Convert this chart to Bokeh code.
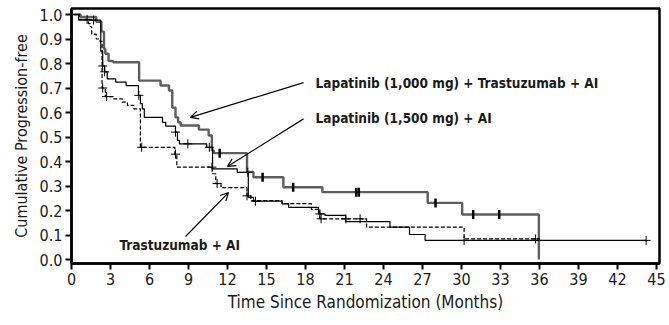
import numpy as np
from bokeh.plotting import figure
from bokeh.models import Range1d, FixedTicker, Arrow, OpenHead, Label
from bokeh.embed import file_html
from bokeh.resources import INLINE

# ---------------- data ----------------
# Lapatinib (1,000 mg) + Trastuzumab + AI
combo_t = [0, 0.7, 1.9, 2.3, 2.5, 2.6, 2.85, 3.2, 5.2, 6.85, 7.5, 7.75, 8.0, 8.2, 8.4,
           9.8, 10.55, 10.8, 10.95, 13.5, 14.0, 16.3, 19.3, 27.4, 30.05, 35.95]
combo_s = [1.0, 0.99, 0.97, 0.93, 0.86, 0.84, 0.81, 0.805, 0.73, 0.71, 0.69, 0.62, 0.58, 0.56, 0.547,
           0.53, 0.506, 0.445, 0.434, 0.357, 0.336, 0.295, 0.275, 0.231, 0.184, 0.0]
combo_censor = [11.4, 14.7, 17.05, 21.9, 22.1, 28.0, 30.9, 32.9]

# Lapatinib (1,500 mg) + AI
lap_t = [0, 0.55, 2.25, 2.4, 2.55, 2.75, 3.4, 4.2, 5.15, 5.3, 5.45, 5.6, 7.0, 7.25, 8.0, 8.15, 8.3,
         10.4, 10.85, 12.75, 13.6, 14.0, 16.2, 16.7, 19.0, 19.5, 21.1, 24.5, 26.0, 27.2, 44.2]
lap_s = [1.0, 0.977, 0.85, 0.79, 0.766, 0.737, 0.724, 0.71, 0.67, 0.636, 0.615, 0.58, 0.56, 0.544, 0.52, 0.486, 0.472,
         0.458, 0.37, 0.356, 0.254, 0.238, 0.227, 0.213, 0.186, 0.18, 0.155, 0.132, 0.102, 0.078, 0.078]
lap_censor = [1.7, 2.4, 2.55, 5.18, 8.0, 8.95, 10.6, 13.56, 14.15, 19.1, 30.2, 44.2]

# Trastuzumab + AI
tras_t = [0, 0.6, 1.3, 1.45, 1.55, 1.9, 2.2, 2.35, 2.6, 3.2, 3.9, 4.3, 4.8, 5.3, 7.95, 8.1,
          10.85, 11.1, 11.5, 13.5, 13.8, 16.2, 18.45, 19.1, 22.7, 30.2, 36.0]
tras_s = [1.0, 0.98, 0.963, 0.95, 0.92, 0.90, 0.89, 0.70, 0.665, 0.656, 0.642, 0.629, 0.615, 0.458, 0.43, 0.377,
          0.35, 0.31, 0.293, 0.26, 0.24, 0.228, 0.205, 0.166, 0.132, 0.084, 0.084]
tras_censor = [1.2, 2.4, 2.7, 5.4, 8.0, 10.8, 11.2, 13.5, 19.2, 21.1, 22.2, 35.7]

x_ticks = [0, 3, 6, 9, 12, 15, 18, 21, 24, 27, 30, 33, 36, 39, 42, 45]
y_ticks = [0.0, 0.1, 0.2, 0.3, 0.4, 0.5, 0.6, 0.7, 0.8, 0.9, 1.0]
y_tick_labels = ["0.0", "0.1", "0.2", "0.3", "0.4", "0.5", "0.6", "0.7", "0.8", "0.9", "1.0"]

label_combo = "Lapatinib (1,000 mg) + Trastuzumab + AI"
label_lap = "Lapatinib (1,500 mg) + AI"
label_tras = "Trastuzumab + AI"
x_title = "Time Since Randomization (Months)"
y_title = "Cumulative Progression-free"

FONT = "'Liberation Sans Narrow', 'DejaVu Sans Condensed', 'Roboto Condensed', sans-serif"


def value_at(ts, ss, cs):
    ts = np.asarray(ts)
    ss = np.asarray(ss)
    idx = np.searchsorted(ts, np.asarray(cs), side="right") - 1
    return ss[idx].tolist()


p = figure(width=669, height=325, output_backend="svg", toolbar_location=None,
           x_range=Range1d(0, 45.23), y_range=Range1d(-0.0163, 1.0245),
           min_border_left=71, min_border_right=10, min_border_top=8, min_border_bottom=62)
p.grid.visible = False
p.background_fill_color = "white"
p.border_fill_color = "white"
p.outline_line_color = "black"
p.outline_line_width = 2.5

# curves
p.step(combo_t, combo_s, mode="after", line_color="#5e5e5e", line_width=2.4)
p.step(lap_t, lap_s, mode="after", line_color="black", line_width=1.2)
p.step(tras_t, tras_s, mode="after", line_color="black", line_width=1.2, line_dash="4 2")

p.scatter(combo_censor, value_at(combo_t, combo_s, combo_censor), marker="dash",
          angle=np.pi / 2, size=9, line_color="black", line_width=2.5)
p.scatter(lap_censor, value_at(lap_t, lap_s, lap_censor), marker="cross",
          size=9, line_color="black", line_width=1)
p.scatter(tras_censor, value_at(tras_t, tras_s, tras_censor), marker="cross",
          size=9, line_color="black", line_width=1)

# annotations
for txt, x, y in [(label_combo, 18.77, 0.722), (label_lap, 18.77, 0.578), (label_tras, 3.69, 0.061)]:
    p.add_layout(Label(x=x, y=y, text=txt, text_font=FONT, text_font_style="bold",
                       text_font_size="13.5px", text_baseline="middle", text_align="left",
                       text_color="#1a1a1a"))

for xs, ys, xe, ye in [(17.85, 0.722, 9.15, 0.58), (17.85, 0.574, 12.0, 0.38), (8.77, 0.094, 12.08, 0.273)]:
    p.add_layout(Arrow(end=OpenHead(size=8, line_width=1.2, line_color="black"),
                       x_start=xs, y_start=ys, x_end=xe, y_end=ye,
                       line_color="black", line_width=1.2))

# axes
for ax in (p.xaxis[0], p.yaxis[0]):
    ax.axis_line_width = 2.5
    ax.axis_line_color = "black"
    ax.major_tick_line_width = 2
    ax.major_tick_line_color = "black"
    ax.major_tick_out = 6
    ax.major_tick_in = 0
    ax.minor_tick_line_color = None
    ax.major_label_text_font = FONT
    ax.major_label_text_font_size = "16px"
    ax.major_label_text_color = "#1a1a1a"
    ax.axis_label_text_font = FONT
    ax.axis_label_text_font_style = "normal"
    ax.axis_label_text_color = "#1a1a1a"

p.xaxis.axis_label_text_font_size = "17px"
p.yaxis.axis_label_text_font_size = "16px"
p.xaxis.ticker = FixedTicker(ticks=x_ticks)
p.yaxis.ticker = FixedTicker(ticks=y_ticks)
p.yaxis.major_label_overrides = {t: l for t, l in zip(y_ticks, y_tick_labels)}
p.xaxis.axis_label = x_title
p.yaxis.axis_label = y_title
p.xaxis.major_label_standoff = 3
p.yaxis.major_label_standoff = 3
p.xaxis.axis_label_standoff = 4
p.yaxis.axis_label_standoff = 6

open("out.html", "w").write(file_html(p, INLINE))
